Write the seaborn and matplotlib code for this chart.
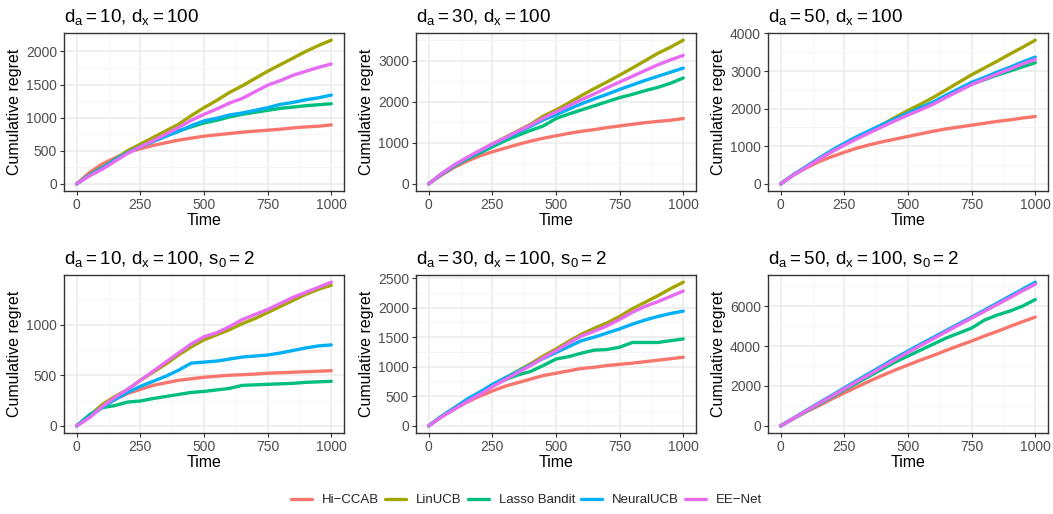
import numpy as np
import pandas as pd
import seaborn as sns
import matplotlib
matplotlib.use("Agg")
import matplotlib.pyplot as plt
from matplotlib.ticker import MultipleLocator
from matplotlib.lines import Line2D

# ---------------- data ----------------
time = [0, 50, 100, 150, 200, 250, 300, 350, 400, 450, 500,
        550, 600, 650, 700, 750, 800, 850, 900, 950, 1000]

methods = ["Hi\u2212CCAB", "LinUCB", "Lasso Bandit", "NeuralUCB", "EE\u2212Net"]
colors = ["#F8766D", "#A3A500", "#00BF7D", "#00B0F6", "#E76BF3"]

titles = [
    r"$\mathregular{d_a = 10,\, d_x = 100}$",
    r"$\mathregular{d_a = 30,\, d_x = 100}$",
    r"$\mathregular{d_a = 50,\, d_x = 100}$",
    r"$\mathregular{d_a = 10,\, d_x = 100,\, s_0 = 2}$",
    r"$\mathregular{d_a = 30,\, d_x = 100,\, s_0 = 2}$",
    r"$\mathregular{d_a = 50,\, d_x = 100,\, s_0 = 2}$",
]

# panel 1: d_a=10, d_x=100
p1_hiccab = [0, 170, 300, 390, 480, 530, 580, 620, 660, 690, 720, 740, 760, 780, 795, 810, 825, 845, 860, 870, 890]
p1_linucb = [0, 140, 250, 370, 500, 600, 700, 800, 900, 1030, 1150, 1260, 1380, 1480, 1590, 1700, 1800, 1900, 2000, 2090, 2170]
p1_lasso = [0, 130, 240, 360, 470, 560, 640, 720, 800, 860, 920, 960, 1010, 1050, 1080, 1110, 1140, 1160, 1180, 1195, 1210]
p1_neural = [0, 130, 240, 360, 470, 560, 640, 720, 790, 880, 950, 990, 1040, 1070, 1110, 1150, 1200, 1230, 1270, 1300, 1340]
p1_eenet = [0, 120, 220, 340, 460, 560, 650, 750, 850, 960, 1050, 1130, 1220, 1290, 1390, 1490, 1560, 1640, 1700, 1760, 1810]

# panel 2: d_a=30, d_x=100
p2_hiccab = [0, 210, 400, 550, 680, 780, 870, 960, 1040, 1110, 1170, 1230, 1280, 1320, 1370, 1410, 1450, 1490, 1520, 1550, 1590]
p2_linucb = [0, 240, 450, 630, 800, 970, 1130, 1290, 1450, 1650, 1800, 1970, 2150, 2320, 2480, 2650, 2820, 3000, 3180, 3330, 3500]
p2_lasso = [0, 230, 430, 600, 750, 900, 1050, 1180, 1300, 1410, 1590, 1700, 1800, 1900, 2000, 2100, 2180, 2270, 2350, 2450, 2580]
p2_neural = [0, 240, 450, 630, 790, 950, 1100, 1250, 1400, 1560, 1680, 1820, 1950, 2070, 2180, 2300, 2410, 2520, 2620, 2720, 2820]
p2_eenet = [0, 245, 460, 640, 810, 970, 1120, 1280, 1430, 1600, 1750, 1900, 2050, 2190, 2340, 2480, 2620, 2760, 2900, 3020, 3130]

# panel 3: d_a=50, d_x=100
p3_hiccab = [0, 230, 420, 590, 720, 840, 950, 1040, 1120, 1190, 1260, 1330, 1400, 1460, 1510, 1560, 1610, 1660, 1700, 1750, 1790]
p3_linucb = [0, 240, 450, 660, 850, 1040, 1220, 1400, 1580, 1770, 1950, 2120, 2300, 2500, 2700, 2900, 3080, 3260, 3450, 3630, 3820]
p3_lasso = [0, 240, 450, 670, 870, 1060, 1240, 1400, 1560, 1720, 1870, 2010, 2150, 2320, 2490, 2650, 2770, 2890, 3000, 3110, 3220]
p3_neural = [0, 245, 460, 680, 890, 1080, 1260, 1420, 1580, 1730, 1880, 2030, 2180, 2360, 2530, 2700, 2830, 2970, 3100, 3240, 3370]
p3_eenet = [0, 235, 440, 650, 850, 1030, 1200, 1360, 1520, 1680, 1830, 1970, 2120, 2300, 2470, 2640, 2780, 2920, 3050, 3190, 3310]

# panel 4: d_a=10, d_x=100, s_0=2
p4_hiccab = [0, 100, 190, 260, 320, 360, 400, 425, 450, 465, 480, 490, 500, 505, 512, 520, 525, 530, 535, 540, 545]
p4_linucb = [0, 100, 210, 290, 360, 450, 530, 610, 700, 780, 850, 900, 950, 1010, 1060, 1120, 1180, 1240, 1300, 1350, 1390]
p4_lasso = [0, 110, 180, 200, 235, 245, 270, 290, 310, 330, 340, 355, 370, 400, 405, 410, 415, 420, 430, 435, 440]
p4_neural = [0, 90, 180, 260, 330, 390, 440, 490, 550, 620, 630, 640, 660, 680, 690, 700, 720, 745, 770, 790, 800]
p4_eenet = [0, 80, 190, 280, 360, 450, 540, 630, 720, 810, 880, 920, 980, 1050, 1100, 1150, 1210, 1270, 1320, 1370, 1420]

# panel 5: d_a=30, d_x=100, s_0=2
p5_hiccab = [0, 150, 280, 400, 500, 590, 670, 730, 790, 850, 890, 930, 970, 990, 1020, 1040, 1060, 1085, 1110, 1135, 1160]
p5_linucb = [0, 160, 300, 440, 560, 690, 810, 930, 1050, 1180, 1300, 1430, 1550, 1650, 1740, 1850, 1980, 2090, 2200, 2320, 2430]
p5_lasso = [0, 160, 300, 440, 560, 680, 780, 860, 920, 1020, 1130, 1170, 1230, 1280, 1290, 1330, 1410, 1410, 1410, 1440, 1470]
p5_neural = [0, 160, 300, 450, 570, 700, 810, 920, 1030, 1140, 1240, 1340, 1440, 1500, 1570, 1640, 1720, 1790, 1850, 1900, 1940]
p5_eenet = [0, 150, 280, 410, 530, 660, 780, 900, 1020, 1150, 1270, 1400, 1520, 1600, 1690, 1800, 1920, 2020, 2100, 2190, 2280]

# panel 6: d_a=50, d_x=100, s_0=2
p6_hiccab = [0, 360, 700, 1010, 1340, 1650, 1950, 2250, 2530, 2800, 3050, 3300, 3530, 3780, 4020, 4250, 4500, 4730, 4980, 5220, 5450]
p6_linucb = [0, 380, 760, 1130, 1500, 1880, 2250, 2620, 3000, 3370, 3720, 4060, 4400, 4740, 5080, 5420, 5760, 6100, 6440, 6800, 7150]
p6_lasso = [0, 370, 730, 1080, 1440, 1800, 2150, 2500, 2850, 3200, 3500, 3800, 4100, 4400, 4650, 4900, 5300, 5550, 5750, 6000, 6330]
p6_neural = [0, 385, 770, 1150, 1520, 1900, 2280, 2650, 3020, 3400, 3750, 4100, 4440, 4780, 5120, 5450, 5800, 6150, 6500, 6850, 7200]
p6_eenet = [0, 375, 750, 1120, 1480, 1850, 2220, 2580, 2950, 3320, 3680, 4030, 4370, 4720, 5060, 5400, 5740, 6080, 6420, 6770, 7100]

panels = [
    [p1_hiccab, p1_linucb, p1_lasso, p1_neural, p1_eenet],
    [p2_hiccab, p2_linucb, p2_lasso, p2_neural, p2_eenet],
    [p3_hiccab, p3_linucb, p3_lasso, p3_neural, p3_eenet],
    [p4_hiccab, p4_linucb, p4_lasso, p4_neural, p4_eenet],
    [p5_hiccab, p5_linucb, p5_lasso, p5_neural, p5_eenet],
    [p6_hiccab, p6_linucb, p6_lasso, p6_neural, p6_eenet],
]
ytick_steps = [500, 1000, 1000, 500, 500, 2000]

# ---------------- style ----------------
sns.set_theme(style="white")
plt.rcParams["font.family"] = ["Liberation Sans", "DejaVu Sans"]
plt.rcParams["mathtext.fontset"] = "custom"
plt.rcParams["mathtext.rm"] = "Liberation Sans"
plt.rcParams["mathtext.it"] = "Liberation Sans"

W, H = 1053, 514
fig = plt.figure(figsize=(W / 100, H / 100), dpi=100)
fig.patch.set_facecolor("white")

col_left = [64, 416, 768]
pw = 280
row_top = [33, 275]
ph = 158

palette = dict(zip(methods, colors))

for i in range(6):
    r, c = divmod(i, 3)
    ax = fig.add_axes([col_left[c] / W, 1 - (row_top[r] + ph) / H, pw / W, ph / H])
    rows = []
    for m, vals in zip(methods, panels[i]):
        for t, v in zip(time, vals):
            rows.append((t, v, m))
    df = pd.DataFrame(rows, columns=["Time", "Cumulative regret", "Method"])
    df["Method"] = pd.Categorical(df["Method"], categories=methods, ordered=True)
    sns.lineplot(data=df, x="Time", y="Cumulative regret", hue="Method",
                 hue_order=methods, palette=palette, linewidth=2.4,
                 legend=False, ax=ax, estimator=None, sort=True)
    ax.margins(x=0.05, y=0.05)
    ax.xaxis.set_major_locator(MultipleLocator(250))
    ax.xaxis.set_minor_locator(MultipleLocator(125))
    ax.yaxis.set_major_locator(MultipleLocator(ytick_steps[i]))
    ax.yaxis.set_minor_locator(MultipleLocator(ytick_steps[i] / 2))
    ax.grid(True, which="major", color="#EBEBEB", linewidth=1.1)
    ax.grid(True, which="minor", color="#F5F5F5", linewidth=0.6)
    ax.set_axisbelow(True)
    for s in ax.spines.values():
        s.set_color("#333333")
        s.set_linewidth(1.0)
    ax.tick_params(axis="both", which="major", length=3, width=0.8,
                   color="#333333", labelcolor="#4D4D4D", labelsize=10, pad=2,
                   bottom=True, left=True)
    ax.tick_params(axis="both", which="minor", length=0)
    ax.set_xlabel("Time", fontsize=11.5, color="black", labelpad=1)
    ax.set_ylabel("Cumulative regret", fontsize=11.5, color="black", labelpad=3)
    ax.set_title(titles[i], loc="left", fontsize=13.5, color="black", pad=8, x=-0.0)

handles = [Line2D([0], [0], color=col, linewidth=2.4) for col in colors]
fig.legend(handles, methods, loc="center", bbox_to_anchor=(0.5, 1 - 500 / H),
           ncol=5, frameon=False, fontsize=9.5, handlelength=1.6,
           columnspacing=0.45, handletextpad=0.75)

fig.savefig("out.png", dpi=100, facecolor="white")
